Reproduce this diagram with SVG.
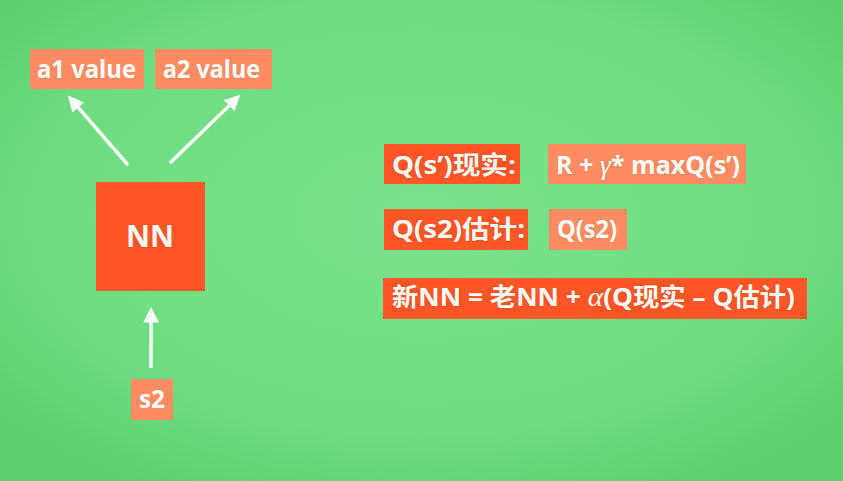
<svg xmlns="http://www.w3.org/2000/svg" width="843" height="481" viewBox="0 0 843 481">
<defs>
<radialGradient id="bg" cx="50%" cy="45%" r="65%">
<stop offset="0" stop-color="#79E38D"/>
<stop offset="0.7" stop-color="#6DDC80"/>
<stop offset="1" stop-color="#5CD16D"/>
</radialGradient>
<marker id="ah" viewBox="0 0 10 10" refX="8" refY="5" markerWidth="4.5" markerHeight="4.5" orient="auto" markerUnits="strokeWidth">
<path d="M0,0 L10,5 L0,10 Z" fill="#FFFFFF"/>
</marker>
<style>
.lt{fill:#FF8B62}
.dk{fill:#FF5527}
.t{font-family:"Open Sans","Noto Sans CJK SC",sans-serif;font-weight:bold;fill:#FFFFFF;font-size:25px}
.m{font-family:"Liberation Serif",serif;font-style:italic;font-weight:normal;font-size:28px}
.ar{stroke:#FFFFFF;stroke-width:3.5;fill:none;marker-end:url(#ah)}
</style>
</defs>
<rect width="843" height="481" fill="url(#bg)"/>
<g id="a1">
<rect class="lt" x="30" y="49" width="114" height="40"/>
<text class="t" x="37" y="78" textLength="99" lengthAdjust="spacingAndGlyphs">a1 value</text>
</g>
<g id="a2">
<rect class="lt" x="155" y="49" width="117" height="40"/>
<text class="t" x="163" y="78" textLength="97" lengthAdjust="spacingAndGlyphs">a2 value</text>
</g>
<g id="nn">
<rect class="dk" x="96" y="182" width="109" height="109"/>
<text class="t" x="126" y="247" textLength="48" lengthAdjust="spacingAndGlyphs" style="font-size:31px">NN</text>
</g>
<g id="s2">
<rect class="lt" x="131" y="379" width="42" height="41"/>
<text class="t" x="139" y="408" textLength="26" lengthAdjust="spacingAndGlyphs">s2</text>
</g>
<g id="qreal">
<rect class="dk" x="384" y="144" width="136" height="40"/>
<text class="t" x="392" y="174" textLength="124" lengthAdjust="spacingAndGlyphs">Q(s’)现实:</text>
</g>
<g id="qrealval">
<rect class="lt" x="548" y="144" width="198" height="40"/>
<text class="t" x="556" y="174" textLength="184" lengthAdjust="spacingAndGlyphs">R + <tspan class="m">γ</tspan>* maxQ(s’)</text>
</g>
<g id="qest">
<rect class="dk" x="384" y="209" width="144" height="41"/>
<text class="t" x="392" y="238" textLength="133" lengthAdjust="spacingAndGlyphs">Q(s2)估计:</text>
</g>
<g id="qestval">
<rect class="lt" x="549" y="209" width="78" height="41"/>
<text class="t" x="557" y="238" textLength="60" lengthAdjust="spacingAndGlyphs">Q(s2)</text>
</g>
<g id="update">
<rect class="dk" x="383" y="278" width="424" height="41"/>
<text class="t" x="392" y="306" textLength="403" lengthAdjust="spacingAndGlyphs">新NN = 老NN + <tspan class="m">α</tspan>(Q现实 – Q估计)</text>
</g>
<g id="connectors">
<line class="ar" x1="128" y1="165" x2="70" y2="98"/>
<line class="ar" x1="170" y1="163" x2="238" y2="97"/>
<line class="ar" x1="151" y1="368" x2="151" y2="310"/>
</g>
</svg>
